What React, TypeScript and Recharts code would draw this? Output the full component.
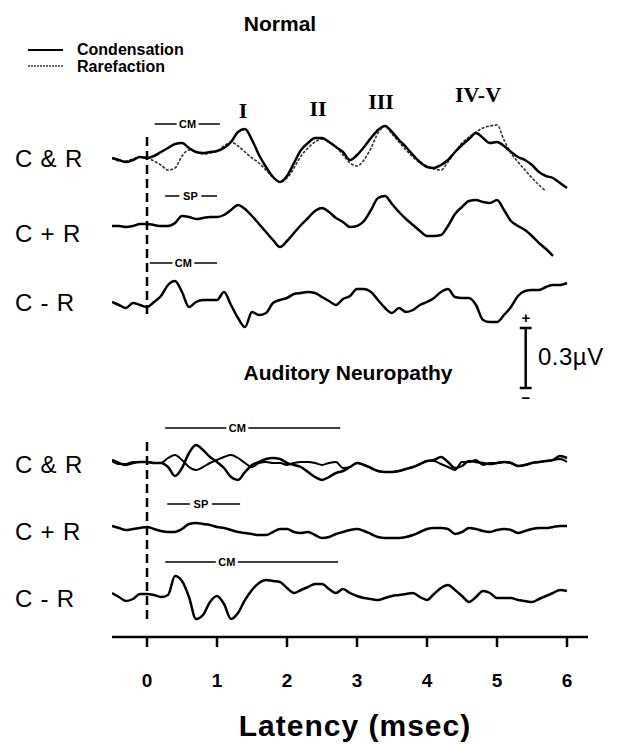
import { LineChart, Line, XAxis, YAxis, ReferenceLine } from 'recharts'

// latency in msec, sampled every 0.1 ms
const latency = [
  -0.5, -0.4, -0.3, -0.2, -0.1, 0, 0.1, 0.2, 0.3, 0.4, 0.5, 0.6, 0.7, 0.8, 0.9,
  1, 1.1, 1.2, 1.3, 1.4, 1.5, 1.6, 1.7, 1.8, 1.9, 2, 2.1, 2.2, 2.3, 2.4, 2.5, 2.6, 2.7, 2.8, 2.9,
  3, 3.1, 3.2, 3.3, 3.4, 3.5, 3.6, 3.7, 3.8, 3.9, 4, 4.1, 4.2, 4.3, 4.4, 4.5, 4.6, 4.7, 4.8, 4.9,
  5, 5.1, 5.2, 5.3, 5.4, 5.5, 5.6, 5.7, 5.8, 5.9, 6,
]

// amplitudes in nV, relative to each trace's baseline
const normalCondensation = [
  0, -10, -20, -10, 5, 0, 10, 30, 50, 70, 75, 50, 30, 25, 30,
  35, 50, 80, 130, 145, 90, 15, -45, -95, -120, -90, -25, 40, 75, 100, 100, 80, 55, 30, -10,
  15, 55, 100, 140, 160, 130, 90, 55, 15, -20, -45, -50, -35, -10, 30, 65, 95, 125, 100, 75,
  80, 60, 30, 5, -10, -35, -70, -90, -100, -125, -150,
]
const normalRarefaction = [
  0, -15, -15, -5, 5, 0, -15, -35, -60, -50, 10, 40, 30, 20, 25,
  35, 60, 80, 60, 30, 0, -25, -60, -95, -120, -100, -50, 10, 50, 80, 95, 80, 55, 15, -25,
  -40, -10, 50, 125, 160, 120, 80, 40, 5, -25, -40, -55, -60, -20, 30, 75, 105, 130, 150, 160,
  165, 90, 25, -20, -60, -100, -135, -165,
]
const normalSum = [
  -5, -5, -10, -5, 5, 5, 0, -5, -5, 10, 45, 40, 30, 35, 40,
  40, 50, 75, 100, 80, 45, 5, -35, -75, -110, -80, -40, 0, 35, 70, 85, 65, 35, 15, -10,
  -5, 20, 75, 135, 145, 105, 65, 30, 0, -30, -55, -55, -50, -5, 55, 90, 120, 125, 115, 110,
  125, 75, 20, -5, -25, -55, -90, -120, -155,
]
const normalDiff = [
  5, -10, -25, 0, -10, -20, 5, 35, 90, 110, 55, -20, 5, 15, 15,
  15, 55, -10, -75, -120, -45, -60, -50, 0, 15, 25, 45, 50, 55, 50, 30, 10, -10, 20, 35,
  70, 70, 55, 15, -25, -50, -25, -45, -35, -10, 5, 25, 55, 70, 30, 25, 25, -10, -85, -95,
  -95, -60, -20, 35, 60, 65, 65, 80, 90, 90, 100,
]
const anCondensation = [
  10, -5, -15, -5, 0, 0, -5, -5, -25, -70, -30, 45, 85, 60, 25,
  0, -30, -75, -90, -50, -15, 0, 15, 20, 15, -5, -15, -25, -50, -75, -90, -75, -55, -45, -25,
  -5, -15, -30, -45, -50, -50, -45, -35, -25, -10, 5, 10, 25, 0, -30, -20, 5, 0, -5, -10,
  -5, 0, -5, -20, -15, -5, 0, 5, 10, 30, 20,
]
const anRarefaction = [
  5, -10, -10, 0, 0, 0, -5, -5, 20, 35, 10, -25, -40, -25, -5,
  10, 25, 35, 20, -5, -25, -5, 0, -5, -5, -15, -5, 0, 0, -5, -15, -5, 0, -30, -25,
  -5, -15, -30, -45, -50, -50, -45, -35, -25, -10, 5, 5, -10, -25, -40, 0, 0, 10, -15, -5,
  -5, 0, -5, -20, -15, -5, 0, 5, 10, 15, 0,
]
const anSum = [
  5, -5, -15, -10, -5, 0, -10, -20, -25, -25, -10, 15, 20, 15, 10,
  0, -5, -15, -25, -30, -35, -40, -40, -25, -10, -10, -25, -30, -25, -40, -55, -50, -35, -25, -15,
  -10, -20, -35, -50, -55, -55, -55, -50, -40, -25, -10, -5, -5, -10, -35, -25, -5, -10, -20, -25,
  -15, -10, -15, -30, -20, -10, -5, -5, 0, 5, 5,
]
const anDiff = [
  10, -10, -30, -20, 5, 5, 0, -10, 0, 95, 70, -10, -120, -100, -35,
  -5, -45, -120, -90, -25, 25, 60, 75, 70, 65, 35, 10, 25, 40, 55, 55, 30, 10, 30, 10,
  -5, -15, -20, -25, -15, -5, 0, 5, 10, -10, -25, 5, 35, 50, 25, -5, -35, -10, 20, 10,
  -15, -15, -15, -25, -30, -35, -20, -5, 10, 25, 20,
]

// vertical offsets (nV) of each trace
const offsets = {
  nC: 2395, nR: 2395, nSum: 2060, nDiff: 1670,
  aC: 875, aR: 875, aSum: 550, aDiff: 210,
}

// CM / SP windows: from, to, label position (msec), level (nV)
const windows = [
  { text: 'CM', from: 0.11, to: 1.04, at: 0.58, level: 2565 },
  { text: 'SP', from: 0.26, to: 1.0, at: 0.62, level: 2205 },
  { text: 'CM', from: 0.04, to: 1.0, at: 0.52, level: 1870 },
  { text: 'CM', from: 0.26, to: 2.76, at: 1.29, level: 1045 },
  { text: 'SP', from: 0.29, to: 1.33, at: 0.77, level: 665 },
  { text: 'CM', from: 0.26, to: 2.73, at: 1.14, level: 375 },
]

const waveIds = ['I', 'II', 'III', 'IV-V']
const rowNames = ['C & R', 'C + R', 'C - R']
const xTicks = [0, 1, 2, 3, 4, 5, 6]

const scaleBar = { at: 5.41, top: 1545, size: 300 }

const series: Record<string, number[]> = {
  nC: normalCondensation, nR: normalRarefaction, nSum: normalSum, nDiff: normalDiff,
  aC: anCondensation, aR: anRarefaction, aSum: anSum, aDiff: anDiff,
}

const rows = latency.map((t, i) => {
  const r: Record<string, number | undefined> = { t }
  for (const k of Object.keys(series)) {
    const v = series[k][i]
    r[k] = v === undefined ? undefined : v + offsets[k as keyof typeof offsets]
  }
  return r
})

const font = 'Liberation Sans, Arial, Helvetica, sans-serif'
const serif = 'Liberation Serif, Times New Roman, serif'

const WindowLabel = (props: any) => {
  const { viewBox, text, from, to, at } = props
  if (!viewBox) return null
  const cx = viewBox.x + ((at - from) / (to - from)) * viewBox.width
  const cy = viewBox.y
  return (
    <g>
      <rect x={cx - 11} y={cy - 6} width={22} height={12} fill='#fff' />
      <text x={cx} y={cy + 4} textAnchor='middle' fontSize={11} fontWeight='bold' fontFamily={font} fill='#000'>
        {text}
      </text>
    </g>
  )
}

const solid = { stroke: '#000', strokeWidth: 2.5 }
const dotted = { stroke: '#333', strokeWidth: 1.6, strokeDasharray: '3 1.5' }

export default function App() {
  return (
    <div style={{ position: 'absolute', left: 0, top: 0, width: 619, height: 744, background: '#fff' }}>
      <LineChart width={619} height={744} data={rows} margin={{ top: 107, right: 31, bottom: 47, left: 112 }}>
        <XAxis
          dataKey='t'
          type='number'
          domain={[-0.5, 6.3]}
          ticks={xTicks}
          allowDataOverflow
          height={60}
          axisLine={{ stroke: '#000', strokeWidth: 2.5 }}
          tickLine={{ stroke: '#000', strokeWidth: 2.5 }}
          tickSize={10}
          tickMargin={27}
          tick={{ fill: '#000', fontSize: 19, fontWeight: 'bold', fontFamily: font }}
        />
        <YAxis hide type='number' domain={[0, 2650]} allowDataOverflow />

        <ReferenceLine segment={[{ x: 0, y: 2500 }, { x: 0, y: 1600 }]} stroke='#000' strokeWidth={2.5} strokeDasharray='9 5' />
        <ReferenceLine segment={[{ x: 0, y: 975 }, { x: 0, y: 70 }]} stroke='#000' strokeWidth={2.5} strokeDasharray='9 5' />

        {windows.map((w, i) => (
          <ReferenceLine
            key={'w' + i}
            segment={[{ x: w.from, y: w.level }, { x: w.to, y: w.level }]}
            stroke='#000'
            strokeWidth={1.5}
            label={<WindowLabel text={w.text} from={w.from} to={w.to} at={w.at} />}
          />
        ))}

        <ReferenceLine segment={[{ x: scaleBar.at, y: scaleBar.top }, { x: scaleBar.at, y: scaleBar.top - scaleBar.size }]} stroke='#000' strokeWidth={2.5} />
        <ReferenceLine segment={[{ x: scaleBar.at - 0.085, y: scaleBar.top }, { x: scaleBar.at + 0.085, y: scaleBar.top }]} stroke='#000' strokeWidth={2.5} />
        <ReferenceLine segment={[{ x: scaleBar.at - 0.085, y: scaleBar.top - scaleBar.size }, { x: scaleBar.at + 0.085, y: scaleBar.top - scaleBar.size }]} stroke='#000' strokeWidth={2.5} />

        <Line dataKey='nR' type='monotone' dot={false} isAnimationActive={false} {...dotted} />
        <Line dataKey='nC' type='monotone' dot={false} isAnimationActive={false} {...solid} />
        <Line dataKey='nSum' type='monotone' dot={false} isAnimationActive={false} {...solid} />
        <Line dataKey='nDiff' type='monotone' dot={false} isAnimationActive={false} {...solid} />
        <Line dataKey='aR' type='monotone' dot={false} isAnimationActive={false} {...solid} strokeWidth={2} />
        <Line dataKey='aC' type='monotone' dot={false} isAnimationActive={false} {...solid} />
        <Line dataKey='aSum' type='monotone' dot={false} isAnimationActive={false} {...solid} />
        <Line dataKey='aDiff' type='monotone' dot={false} isAnimationActive={false} {...solid} />
      </LineChart>

      <svg width={619} height={744} style={{ position: 'absolute', left: 0, top: 0, pointerEvents: 'none' }}>
        <g fontFamily={font} fill='#000'>
          <text x={280} y={31} textAnchor='middle' fontSize={21} fontWeight='bold'>Normal</text>
          <line x1={28} x2={63} y1={50} y2={50} stroke='#000' strokeWidth={2.2} />
          <line x1={28} x2={63} y1={66} y2={66} stroke='#333' strokeWidth={1.6} strokeDasharray='2 1' />
          <text x={77} y={55} fontSize={16} fontWeight='bold'>Condensation</text>
          <text x={77} y={72} fontSize={16} fontWeight='bold'>Rarefaction</text>

          <text x={243} y={118} textAnchor='middle' fontSize={22} fontWeight='bold' fontFamily={serif}>{waveIds[0]}</text>
          <text x={318} y={116} textAnchor='middle' fontSize={22} fontWeight='bold' fontFamily={serif}>{waveIds[1]}</text>
          <text x={381} y={109} textAnchor='middle' fontSize={22} fontWeight='bold' fontFamily={serif}>{waveIds[2]}</text>
          <text x={478} y={102} textAnchor='middle' fontSize={22} fontWeight='bold' fontFamily={serif}>{waveIds[3]}</text>

          <text x={15} y={167} fontSize={24} letterSpacing={0.8}>{rowNames[0]}</text>
          <text x={15} y={242} fontSize={24} letterSpacing={0.8}>{rowNames[1]}</text>
          <text x={15} y={311} fontSize={24} letterSpacing={0.8}>{rowNames[2]}</text>
          <text x={15} y={473} fontSize={24} letterSpacing={0.8}>{rowNames[0]}</text>
          <text x={15} y={540} fontSize={24} letterSpacing={0.8}>{rowNames[1]}</text>
          <text x={15} y={607} fontSize={24} letterSpacing={0.8}>{rowNames[2]}</text>

          <text x={526} y={323} textAnchor='middle' fontSize={15} fontWeight='bold'>+</text>
          <text x={526} y={403} textAnchor='middle' fontSize={15} fontWeight='bold'>−</text>
          <text x={538} y={365} fontSize={24} letterSpacing={0.5}>0.3µV</text>

          <text x={348} y={380} textAnchor='middle' fontSize={21} fontWeight='bold'>Auditory Neuropathy</text>
          <text x={355} y={736} textAnchor='middle' fontSize={30} fontWeight='bold' letterSpacing={1}>Latency (msec)</text>
        </g>
      </svg>
    </div>
  )
}
